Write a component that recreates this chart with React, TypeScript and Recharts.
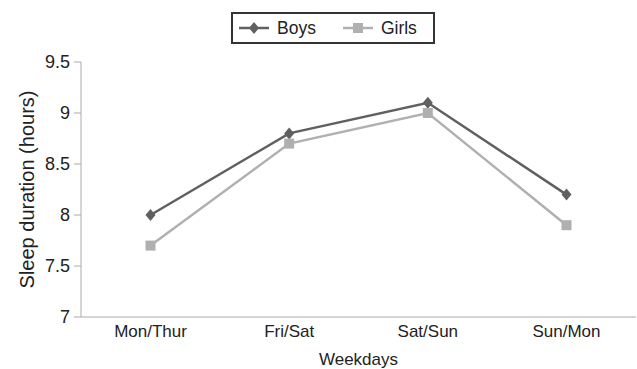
import React from "react";
import { LineChart, Line, XAxis, YAxis, Legend, Label } from "recharts";

const days = ["Mon/Thur", "Fri/Sat", "Sat/Sun", "Sun/Mon"];
const boys = [8.0, 8.8, 9.1, 8.2];
const girls = [7.7, 8.7, 9.0, 7.9];
const yTicks = [7, 7.5, 8, 8.5, 9, 9.5];

const BOYS_COLOR = "#606060";
const GIRLS_COLOR = "#b0b0b0";
const FONT = "Liberation Sans, Arial, sans-serif";

const data = days.map((day, i) => ({ day, Boys: boys[i], Girls: girls[i] }));

// diamond marker for boys
const Diamond = (props: any) => {
  const { cx, cy } = props;
  if (cx == null || cy == null) return null;
  return (
    <polygon
      points={`${cx},${cy - 6} ${cx + 5},${cy} ${cx},${cy + 6} ${cx - 5},${cy}`}
      fill={BOYS_COLOR}
    />
  );
};

// square marker for girls
const Square = (props: any) => {
  const { cx, cy } = props;
  if (cx == null || cy == null) return null;
  return <rect x={cx - 5} y={cy - 5} width={10} height={10} fill={GIRLS_COLOR} />;
};

const LegendBox = () => (
  <div
    style={{
      width: 204,
      height: 32,
      boxSizing: "border-box",
      border: "2px solid #333",
      display: "flex",
      alignItems: "center",
      fontFamily: FONT,
      fontSize: 17.5,
      color: "#222",
    }}
  >
    <svg width={40} height={20} style={{ marginLeft: 4 }}>
      <line x1={2} y1={10} x2={32} y2={10} stroke={BOYS_COLOR} strokeWidth={2.5} />
      <polygon points="17,4 22,10 17,16 12,10" fill={BOYS_COLOR} />
    </svg>
    <span>Boys</span>
    <svg width={40} height={20} style={{ marginLeft: 25 }}>
      <line x1={2} y1={10} x2={32} y2={10} stroke={GIRLS_COLOR} strokeWidth={2.5} />
      <rect x={12} y={5} width={10} height={10} fill={GIRLS_COLOR} />
    </svg>
    <span>Girls</span>
  </div>
);

const App: React.FC = () => {
  return (
    <div style={{ position: "absolute", left: 0, top: 0, background: "#fff" }}>
      <LineChart width={637} height={369} data={data} margin={{ top: 30, right: 1, bottom: 0, left: 0 }}>
        <XAxis
          dataKey="day"
          height={52}
          padding={{ left: 69.5, right: 69.5 }}
          tickLine={false}
          tickSize={6}
          tickMargin={2}
          stroke="#aaa"
          tick={{ fontSize: 17, fill: "#222", fontFamily: FONT }}
        >
          <Label
            value="Weekdays"
            position="insideBottom"
            offset={4}
            style={{ fontSize: 17, fill: "#222", fontFamily: FONT }}
          />
        </XAxis>
        <YAxis
          width={81}
          domain={[7, 9.5]}
          ticks={yTicks}
          interval={0}
          tickSize={7}
          tickMargin={4}
          stroke="#aaa"
          tick={{ fontSize: 18, fill: "#222", fontFamily: FONT }}
        >
          <Label
            value="Sleep duration (hours)"
            angle={-90}
            position="insideLeft"
            offset={27}
            style={{ fontSize: 20, fill: "#222", textAnchor: "middle", fontFamily: FONT }}
          />
        </YAxis>
        <Legend
          verticalAlign="top"
          content={<LegendBox />}
          wrapperStyle={{ top: 12, left: 231, width: 204, height: 32 }}
        />
        <Line
          dataKey="Boys"
          stroke={BOYS_COLOR}
          strokeWidth={2.5}
          dot={<Diamond />}
          activeDot={false}
          isAnimationActive={false}
        />
        <Line
          dataKey="Girls"
          stroke={GIRLS_COLOR}
          strokeWidth={2.5}
          dot={<Square />}
          activeDot={false}
          isAnimationActive={false}
        />
      </LineChart>
    </div>
  );
};

export default App;
